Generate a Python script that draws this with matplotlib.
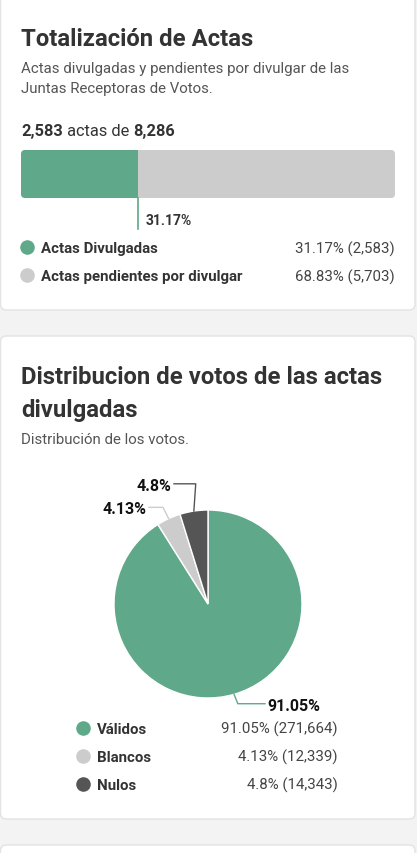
import numpy as np
import matplotlib
matplotlib.use("Agg")
import matplotlib.pyplot as plt
from matplotlib.patches import FancyBboxPatch

# data
acta_labels = ["Actas Divulgadas", "Actas pendientes por divulgar"]
acta_counts = [2583, 5703]
acta_pcts = [31.17, 68.83]

voto_labels = ["Válidos", "Blancos", "Nulos"]
voto_counts = [271664, 12339, 14343]
voto_pcts = [91.05, 4.13, 4.8]

GREEN = "#5fa98a"
LIGHT = "#cccccc"
DARK = "#555555"
acta_colors = [GREEN, LIGHT]
voto_colors = [GREEN, LIGHT, DARK]
TXT = "#333333"
SUB = "#555555"

plt.rcParams["font.family"] = ["Roboto", "DejaVu Sans"]

W, H = 417, 854
fig = plt.figure(figsize=(W / 100, H / 100), dpi=100)
fig.patch.set_facecolor("#f3f3f3")

# page overlay in pixel coords
bg = fig.add_axes([0, 0, 1, 1], zorder=0)
bg.set_xlim(0, W)
bg.set_ylim(H, 0)
bg.axis("off")

for y0, y1 in [(-10, 311), (337, 820), (846, 880)]:
    bg.add_patch(FancyBboxPatch((0.5, y0), 414.5, y1 - y0,
                                boxstyle="round,pad=0,rounding_size=6",
                                fc="white", ec="#e3e3e3", lw=1))


def fmt(n):
    return f"{n:,}"


# ---- card 1 ----
bg.text(21, 45.7, "Totalización de Actas", fontsize=17.2, fontweight="bold",
        color=TXT, va="baseline")
bg.text(21, 73.3, "Actas divulgadas y pendientes por divulgar de las",
        fontsize=10.8, color=SUB, va="baseline")
bg.text(21, 93.3, "Juntas Receptoras de Votos.", fontsize=10.8, color=SUB,
        va="baseline")

total = sum(acta_counts)
t = bg.text(21, 136, fmt(acta_counts[0]), fontsize=11.8, fontweight="bold",
            color=TXT, va="baseline")
t = bg.annotate(" actas de ", xy=(1, 136), xycoords=(t, "data"),
                fontsize=11.8, color=TXT, va="baseline")
bg.annotate(fmt(total), xy=(1, 136), xycoords=(t, "data"), fontsize=11.8,
            fontweight="bold", color=TXT, va="baseline")

bax = fig.add_axes([21 / W, 1 - 199 / H, 374 / W, 48 / H], zorder=2)
clip = FancyBboxPatch((21, 151), 374, 48, boxstyle="round,pad=0,rounding_size=4",
                      transform=bg.transData)
left = 0
for c, col in zip(acta_counts, acta_colors):
    bars = bax.barh([0], [c], left=left, height=1, color=col, lw=0)
    for b in bars:
        b.set_clip_path(clip)
    left += c
bax.set_xlim(0, total)
bax.set_ylim(-0.5, 0.5)
bax.axis("off")
bax.plot([acta_counts[0]] * 2, [-0.5, -1.15], color=GREEN, lw=1.2,
         clip_on=False)
bax.annotate(f"{acta_pcts[0]}%", xy=(acta_counts[0], -0.92),
             xytext=(5.5, 0), textcoords="offset points", fontsize=10,
             fontweight="bold", color=TXT, va="center_baseline",
             annotation_clip=False)

for i, (lab, c, p, col) in enumerate(zip(acta_labels, acta_counts, acta_pcts,
                                         acta_colors)):
    yb = 253.3 + i * 28
    bg.scatter([27], [yb - 5], s=110, color=col, lw=0)
    bg.text(41, yb, lab, fontsize=10.8, fontweight="bold", color=TXT,
            va="baseline")
    bg.text(395, yb, f"{p}% ({fmt(c)})", fontsize=10.8, color="#444444",
            va="baseline", ha="right")

# ---- card 2 ----
bg.text(21, 384, "Distribucion de votos de las actas", fontsize=17.2,
        fontweight="bold", color=TXT, va="baseline")
bg.text(21, 416.7, "divulgadas", fontsize=17.2, fontweight="bold", color=TXT,
        va="baseline")
bg.text(21, 444, "Distribución de los votos.", fontsize=10.8, color=SUB,
        va="baseline")

cx, cy, r = 208, 605, 94
pax = fig.add_axes([(cx - r) / W, 1 - (cy + r) / H, 2 * r / W, 2 * r / H],
                   zorder=2)
wedges, _ = pax.pie(voto_counts, colors=voto_colors, startangle=90,
                    counterclock=False, radius=1,
                    wedgeprops=dict(ec="white", lw=1))
pax.set_xlim(-1, 1)
pax.set_ylim(-1, 1)
pax.axis("off")

# leader-line layout (elbow offset and line end, in radius units)
elbows = [(0.04, -0.10), (-0.06, 0.12), (0.02, 0.29)]
ends = [0.606, -0.628, -0.362]
for w, p, col, (ex, ey), xe in zip(wedges, voto_pcts, voto_colors, elbows,
                                   ends):
    ang = np.deg2rad((w.theta1 + w.theta2) / 2)
    x0, y0 = np.cos(ang), np.sin(ang)
    x1, y1 = x0 + ex, y0 + ey
    pax.plot([x0, x1, xe], [y0, y1, y1], color=col, lw=1, clip_on=False)
    ha = "left" if xe > 0 else "right"
    pax.text(xe + (0.03 if xe > 0 else -0.03), y1, f"{p}%", fontsize=11.5,
             fontweight="bold", color="#111111", ha=ha, va="center_baseline")

for i, (lab, c, p, col) in enumerate(zip(voto_labels, voto_counts, voto_pcts,
                                         voto_colors)):
    yb = 734 + i * 28
    bg.scatter([83], [yb - 5], s=110, color=col, lw=0)
    bg.text(97, yb, lab, fontsize=10.8, fontweight="bold", color=TXT,
            va="baseline")
    bg.text(338, yb, f"{p}% ({fmt(c)})", fontsize=10.8, color="#444444",
            va="baseline", ha="right")

fig.savefig("out.png", dpi=100, facecolor=fig.get_facecolor())
